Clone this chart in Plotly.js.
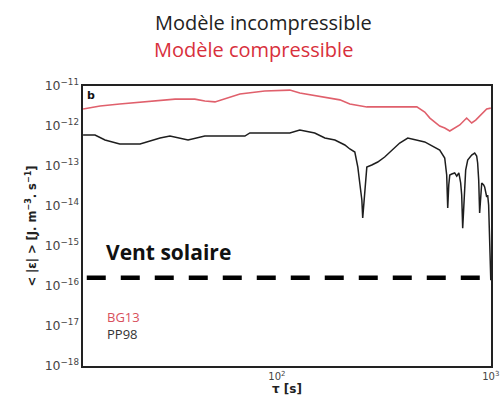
<!DOCTYPE html>
<html><head><meta charset="utf-8">
<script src="https://cdn.plot.ly/plotly-3.0.1.min.js"></script>
<style>html,body{margin:0;padding:0;background:#fff}#chart{width:503px;height:401px}</style>
</head><body><div id="chart"></div>
<script>
// PP98 (incompressible model) - tau [s]
const tauPP98 = [12.4,14.1,15.7,18.4,22.9,28.4,31.6,38.4,46.0,54.1,70.8,74.7,114.9,127.9,150.2,167.5,186.6,207.7,219.2,231.3,238.9,243.9,249.5,251.8,254.7,257.6,263.2,277.6,296,319,375,409,427,491,577,609,622,629,636,643,657,678,693,709,723,731,739,747,755,763,780,814,841,859,868,878,887,897,907,926,936,957,967,977,988,1000];
const epsPP98 = [5.96e-13,5.96e-13,4.47e-13,3.55e-13,3.55e-13,5.0e-13,5.6e-13,4.47e-13,5.6e-13,5.6e-13,5.6e-13,6.7e-13,6.7e-13,7.9e-13,6.7e-13,5.0e-13,4.47e-13,3.35e-13,2.66e-13,2.24e-13,9.4e-14,3.76e-14,1.41e-14,5.0e-15,1.06e-14,2.1e-14,9.4e-14,1.06e-13,1.26e-13,1.68e-13,3.76e-13,5.0e-13,4.7e-13,4.0e-13,2.5e-13,1.58e-13,5.96e-14,8.9e-15,3.35e-14,5.96e-14,6.3e-14,6.7e-14,5.6e-14,6.7e-14,3.76e-14,1.88e-14,2.8e-15,7.9e-15,2.5e-14,7.9e-14,1.41e-13,1.88e-13,2.1e-13,1.78e-13,1.19e-13,4.47e-14,6.7e-15,2.5e-14,3.76e-14,3.35e-14,3.0e-14,1.68e-14,1.88e-14,1.06e-14,1.41e-15,1.4e-16];
// BG13 (compressible model)
const tauBG13 = [12.4,14.9,18.4,25.5,33.4,41.3,46.0,51.3,67.1,87.7,114.9,127.9,158.7,196.9,219.2,263.2,375,451,491,519,577,609,643,678,716,771,814,850,887,957,1000];
const epsBG13 = [2.66e-12,3.16e-12,3.55e-12,4.2e-12,4.7e-12,4.7e-12,4.2e-12,4.0e-12,6.3e-12,7.5e-12,7.9e-12,6.7e-12,5.6e-12,4.5e-12,3.55e-12,3.0e-12,3.0e-12,3.0e-12,2.24e-12,1.58e-12,1.0e-12,8.9e-13,7.5e-13,8.9e-13,1.06e-12,1.58e-12,1.19e-12,1.41e-12,1.78e-12,2.66e-12,2.8e-12];
// Solar wind level
const tauSW = [12.9,1000];
const epsSW = [1.6e-16,1.6e-16];
const xTickVals = [100,1000];
const xTickText = ['10<sup>2</sup>','10<sup>3</sup>'];

const traces = [
  {x: tauSW, y: epsSW, mode:'lines', line:{color:'#000', width:4.5, dash:'19px,15px'}, hoverinfo:'skip'},
  {x: tauBG13, y: epsBG13, mode:'lines', line:{color:'#e0606c', width:1.6}},
  {x: tauPP98, y: epsPP98, mode:'lines', line:{color:'#1e1e1e', width:1.5}}
];
const tickFont = {family:'DejaVu Sans', size:10, color:'#444'};
const layout = {
  width:503, height:401,
  margin:{l:83, r:12, t:86, b:35},
  paper_bgcolor:'#fff', plot_bgcolor:'#fff',
  showlegend:false,
  xaxis:{type:'log', range:[1.093,3.001], tickvals:xTickVals, ticktext:xTickText, showgrid:false, zeroline:false,
    showline:true, mirror:true, linecolor:'#222', linewidth:2, ticks:'', tickfont:tickFont, automargin:false,
    title:{text:'<b>τ [s]</b>', font:{family:'DejaVu Sans', size:12, color:'#222'}, standoff:3}},
  yaxis:{type:'log', range:[-18,-11], dtick:1, exponentformat:'power', showgrid:false, zeroline:false,
    showline:true, mirror:true, linecolor:'#222', linewidth:2, ticks:'', tickfont:tickFont, automargin:false,
    title:{text:'<b>&lt; |ε| &gt; [J. m<sup>−3</sup>. s<sup>−1</sup>]</b>', font:{family:'DejaVu Sans', size:11.5, color:'#222'}, standoff:6}},
  annotations:[
    {xref:'paper', yref:'paper', x:0.443, y:1.225, text:'Modèle incompressible', showarrow:false, xanchor:'center', yanchor:'middle', font:{family:'Open Sans', size:20, color:'#222'}},
    {xref:'paper', yref:'paper', x:0.418, y:1.129, text:'Modèle compressible', showarrow:false, xanchor:'center', yanchor:'middle', font:{family:'Open Sans', size:20, color:'#d8303c'}},
    {xref:'paper', yref:'paper', x:0.005, y:0.995, text:'<b>b</b>', showarrow:false, xanchor:'left', yanchor:'top', font:{family:'DejaVu Sans', size:11, color:'#111'}},
    {xref:'paper', yref:'paper', x:0.052, y:0.407, text:'<b>Vent solaire</b>', showarrow:false, xanchor:'left', yanchor:'middle', font:{family:'Open Sans', size:21, color:'#111'}},
    {xref:'paper', yref:'paper', x:0.055, y:0.175, text:'BG13', showarrow:false, xanchor:'left', yanchor:'middle', font:{family:'Open Sans', size:13, color:'#d8505c'}},
    {xref:'paper', yref:'paper', x:0.055, y:0.114, text:'PP98', showarrow:false, xanchor:'left', yanchor:'middle', font:{family:'Open Sans', size:13, color:'#333'}}
  ]
};
Plotly.newPlot('chart', traces, layout, {staticPlot:true, displayModeBar:false});
</script></body></html>
